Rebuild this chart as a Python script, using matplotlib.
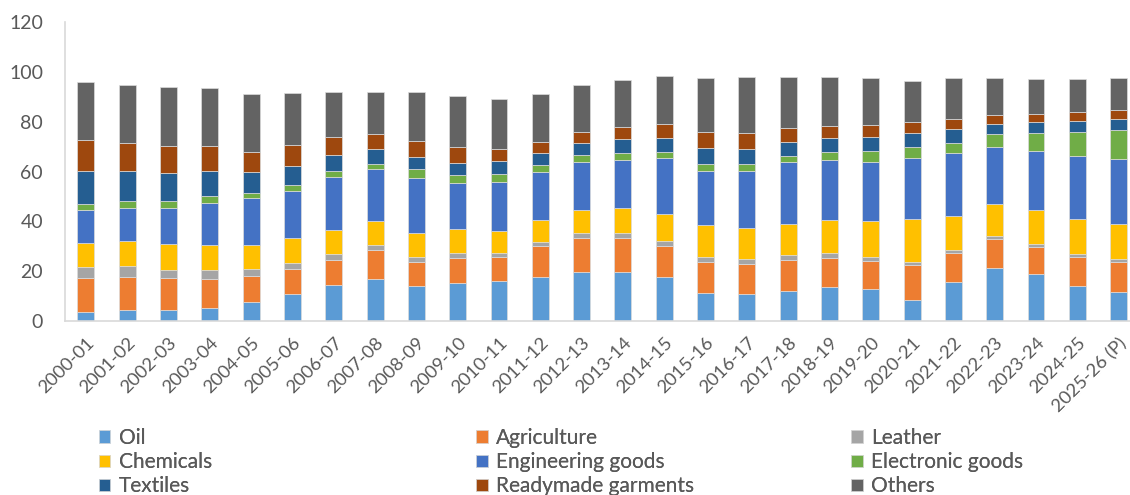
import matplotlib.pyplot as plt
import numpy as np

plt.rcParams['font.family'] = ['Lato', 'DejaVu Sans']

years = ["2000-01", "2001-02", "2002-03", "2003-04", "2004-05", "2005-06",
         "2006-07", "2007-08", "2008-09", "2009-10", "2010-11", "2011-12",
         "2012-13", "2013-14", "2014-15", "2015-16", "2016-17", "2017-18",
         "2018-19", "2019-20", "2020-21", "2021-22", "2022-23", "2023-24",
         "2024-25", "2025-26 (P)"]

oil = [3.8, 4.3, 4.3, 5.1, 7.8, 10.8, 14.3, 17.0, 14.0, 15.1, 16.0, 17.7, 19.8,
       19.7, 17.7, 11.1, 10.8, 11.9, 13.5, 12.7, 8.4, 15.6, 21.3, 18.9, 13.9, 11.6]
agriculture = [13.6, 13.5, 12.8, 11.6, 10.1, 10.0, 10.2, 11.3, 9.7, 10.1, 9.6, 12.4, 13.6,
               13.6, 12.6, 12.6, 12.2, 12.6, 11.8, 11.3, 14.1, 11.6, 11.6, 10.9, 11.8, 12.1]
leather = [4.2, 4.4, 3.5, 3.7, 2.9, 2.5, 2.5, 2.2, 2.0, 2.0, 1.8, 1.6, 1.8,
           1.9, 2.0, 2.0, 1.9, 1.9, 1.8, 1.5, 1.2, 1.2, 1.2, 1.1, 1.1, 1.0]
chemicals = [9.9, 9.9, 10.3, 10.1, 9.8, 10.1, 9.7, 9.8, 9.6, 9.7, 8.6, 9.0, 9.5,
             10.1, 10.6, 12.7, 12.4, 12.7, 13.6, 14.7, 17.1, 13.8, 12.9, 13.7, 14.2, 14.2]
engineering = [13.0, 13.3, 14.5, 16.7, 18.6, 18.9, 21.0, 20.6, 22.2, 18.5, 19.9, 19.3, 19.2,
               19.5, 22.5, 22.0, 23.1, 24.8, 24.1, 23.8, 24.8, 25.2, 22.7, 23.7, 25.2, 26.2]
electronic = [2.4, 2.7, 2.6, 2.8, 2.1, 2.1, 2.4, 2.2, 3.7, 3.1, 3.3, 2.7, 2.7,
              2.7, 2.4, 2.5, 2.7, 2.4, 3.1, 4.2, 4.2, 4.0, 5.5, 7.3, 9.7, 11.6]
textiles = [13.2, 12.0, 11.3, 10.4, 8.7, 7.7, 6.5, 5.9, 4.8, 5.1, 5.0, 4.7, 4.8,
            5.7, 5.7, 6.5, 5.9, 5.7, 5.4, 5.5, 5.7, 5.7, 4.0, 4.2, 4.4, 4.3]
garments = [12.5, 11.3, 10.8, 9.7, 7.8, 8.5, 7.3, 6.1, 6.2, 6.1, 4.8, 4.6, 4.5,
            4.7, 5.6, 6.5, 6.5, 5.4, 4.9, 4.9, 4.3, 3.9, 3.5, 3.2, 3.5, 3.6]
others = [23.2, 23.2, 24.0, 23.3, 23.4, 21.0, 18.1, 16.9, 19.6, 20.7, 20.2, 19.2, 19.0,
          18.9, 19.1, 21.7, 22.3, 20.7, 19.8, 18.8, 16.7, 16.6, 14.9, 14.0, 13.5, 13.0]

series = [
    ("Oil", oil, "#5B9BD5"),
    ("Agriculture", agriculture, "#ED7D31"),
    ("Leather", leather, "#A5A5A5"),
    ("Chemicals", chemicals, "#FFC000"),
    ("Engineering goods", engineering, "#4472C4"),
    ("Electronic goods", electronic, "#70AD47"),
    ("Textiles", textiles, "#255E91"),
    ("Readymade garments", garments, "#9E480E"),
    ("Others", others, "#636363"),
]

fig = plt.figure(figsize=(11.3, 4.95), dpi=100)
ax = fig.add_axes([0.0578, 0.3515, 0.9504, 0.604])

x = np.arange(len(years))
bottom = np.zeros(len(years))
handles = {}
for name, vals, color in series:
    bars = ax.bar(x, vals, width=0.41, bottom=bottom, color=color,
                  edgecolor="#dcdcdc", linewidth=0.5, label=name)
    handles[name] = bars
    bottom += np.array(vals)

ax.set_xlim(-0.5, len(years) - 0.5)
ax.set_ylim(0, 120)
ax.set_yticks(range(0, 121, 20))
ax.set_xticks(x)
ax.set_xticklabels(years, rotation=45, ha="right", rotation_mode="anchor")

for side in ["top", "right"]:
    ax.spines[side].set_visible(False)
for side in ["left", "bottom"]:
    ax.spines[side].set_color("#d9d9d9")
    ax.spines[side].set_linewidth(1.2)

ax.tick_params(axis="y", length=0, pad=16, labelsize=14, labelcolor="#595959")
ax.tick_params(axis="x", length=0, pad=10, labelsize=13.3, labelcolor="#595959")

# three legend columns, placed by hand like the original
columns = [
    (["Oil", "Chemicals", "Textiles"], 0.080),
    (["Agriculture", "Engineering goods", "Readymade garments"], 0.414),
    (["Leather", "Electronic goods", "Others"], 0.746),
]
for names, xpos in columns:
    leg = fig.legend([handles[n] for n in names], names,
                     loc="upper left", bbox_to_anchor=(xpos, 0.152),
                     frameon=False, fontsize=15, handlelength=0.56,
                     handleheight=0.56, handletextpad=0.4, labelspacing=0.2,
                     labelcolor="#595959", borderaxespad=0)
    fig.add_artist(leg)

fig.savefig("out.png", dpi=100)
